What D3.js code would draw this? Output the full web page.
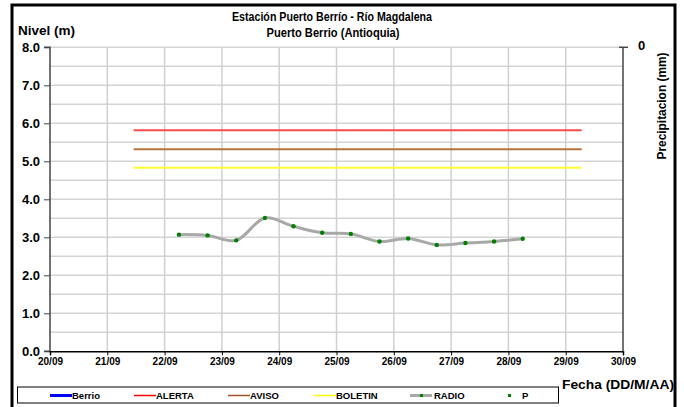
<!DOCTYPE html>
<html><head><meta charset="utf-8">
<script src="https://cdn.jsdelivr.net/npm/d3@7/dist/d3.min.js"></script>
<style>
body{margin:0;background:#fff;}
text{font-family:"Liberation Sans",Arial,sans-serif;font-weight:bold;fill:#000;}
</style></head><body>
<svg id="c" width="684" height="407"></svg>
<script>
const dateTicks = ["20/09","21/09","22/09","23/09","24/09","25/09","26/09","27/09","28/09","29/09","30/09"];
const yTicks = [0,1,2,3,4,5,6,7,8];
// RADIO readings, every 12 h from 22/09 06:00 (offset in days from 20/09 00:00)
const radioDays = [2.25,2.75,3.25,3.75,4.25,4.75,5.25,5.75,6.25,6.75,7.25,7.75,8.25];
const radioLevels = [3.07,3.05,2.92,3.51,3.29,3.12,3.09,2.89,2.97,2.80,2.85,2.89,2.96];
const thresholdSpan = [1.46,9.28];
const thresholds = [
  {name:"ALERTA", value:5.82, color:"#ff4b4b"},
  {name:"AVISO", value:5.32, color:"#b5743a"},
  {name:"BOLETIN", value:4.83, color:"#ffff33"}
];

const svg = d3.select("#c");
const X0=50, X1=623, Y0=351.3, Y1=47.3;
const x = d3.scaleLinear().domain([0,10]).range([X0,X1]);
const y = d3.scaleLinear().domain([0,8]).range([Y0,Y1]);

// outer border
svg.append("rect").attr("x",12).attr("y",5).attr("width",663).attr("height",406)
  .attr("fill","none").attr("stroke","#000").attr("stroke-width",3);

// grid
const g = svg.append("g");
g.selectAll(".hg").data(d3.range(0.5,8.01,0.5)).join("line")
  .attr("x1",X0).attr("x2",X1).attr("y1",d=>y(d)).attr("y2",d=>y(d))
  .attr("stroke","#d4d4d4").attr("stroke-width",1.5);
g.selectAll(".vg").data(d3.range(1,10)).join("line")
  .attr("x1",d=>x(d)).attr("x2",d=>x(d)).attr("y1",Y1).attr("y2",Y0)
  .attr("stroke","#cfcfcf").attr("stroke-width",1.5);

// axes
const yAxis = d3.axisLeft(y).tickValues(yTicks).tickFormat(d3.format(".1f")).tickSize(6).tickPadding(4);
const ya = svg.append("g").attr("transform",`translate(${X0},0)`).call(yAxis);
ya.select(".domain").attr("stroke","#444").attr("stroke-width",1.5).attr("d",`M-6,${Y1}H0V${Y0}H-6`);
ya.selectAll(".tick line").attr("stroke","#444");
ya.selectAll("text").style("font-size","13px").attr("dy","0.3em").style("font-family","'Liberation Sans',Arial,sans-serif").style("font-weight","bold");

const xAxis = d3.axisBottom(x).tickValues(d3.range(0,11)).tickFormat((d,i)=>dateTicks[i]).tickSize(4).tickPadding(3);
const xa = svg.append("g").attr("transform",`translate(0,${Y0})`).call(xAxis);
xa.select(".domain").attr("stroke","#000").attr("stroke-width",1.5);
xa.selectAll(".tick line").attr("stroke","#000");
xa.selectAll("text").style("font-size","10px").style("font-family","'Liberation Sans',Arial,sans-serif").style("font-weight","bold");

// right axis
svg.append("line").attr("x1",X1).attr("x2",X1).attr("y1",Y1).attr("y2",Y0).attr("stroke","#444").attr("stroke-width",1.5);
svg.append("line").attr("x1",X1-4).attr("x2",X1+5).attr("y1",Y1).attr("y2",Y1).attr("stroke","#444").attr("stroke-width",1.5);
svg.append("text").attr("x",638).attr("y",Y1+3).style("font-size","13px").text("0");

// thresholds
thresholds.forEach(t=>{
  svg.append("line").attr("x1",x(thresholdSpan[0])).attr("x2",x(thresholdSpan[1]))
    .attr("y1",y(t.value)).attr("y2",y(t.value)).attr("stroke",t.color).attr("stroke-width",2);
});

// RADIO line
const pts = radioDays.map((d,i)=>[d,radioLevels[i]]);
svg.append("path").datum(pts)
  .attr("d",d3.line().x(d=>x(d[0])).y(d=>y(d[1])).curve(d3.curveCatmullRom.alpha(0.5)))
  .attr("fill","none").attr("stroke","#a8a8a8").attr("stroke-width",3);
svg.selectAll(".pt").data(pts).join("circle")
  .attr("cx",d=>x(d[0])).attr("cy",d=>y(d[1])).attr("r",2.2).attr("fill","#008000");

// titles
svg.append("text").attr("x",332).attr("y",21).attr("text-anchor","middle").style("font-size","12.5px")
  .attr("textLength",200).attr("lengthAdjust","spacingAndGlyphs").text("Estación Puerto Berrío - Río Magdalena");
svg.append("text").attr("x",333).attr("y",37).attr("text-anchor","middle").style("font-size","12.5px")
  .attr("textLength",133).attr("lengthAdjust","spacingAndGlyphs").text("Puerto Berrio (Antioquia)");
svg.append("text").attr("x",18).attr("y",35).style("font-size","12.5px")
  .attr("textLength",57).attr("lengthAdjust","spacingAndGlyphs").text("Nivel (m)");
svg.append("text").attr("transform","translate(666,106) rotate(-90)").attr("text-anchor","middle").style("font-size","12px")
  .attr("textLength",107).attr("lengthAdjust","spacingAndGlyphs").text("Precipitacion (mm)");
svg.append("text").attr("x",562).attr("y",389).style("font-size","13px")
  .attr("textLength",112).attr("lengthAdjust","spacingAndGlyphs").text("Fecha (DD/M/AA)");

// legend
svg.append("rect").attr("x",17.5).attr("y",387).attr("width",541).attr("height",16)
  .attr("fill","#fff").attr("stroke","#000").attr("stroke-width",1);
const legendItems = [
  {name:"Berrio", color:"#0000ff", w:3, lx:50, tx:72},
  {name:"ALERTA", color:"#ff0000", w:1.5, lx:134, tx:156},
  {name:"AVISO", color:"#a0522d", w:1.5, lx:228, tx:250},
  {name:"BOLETIN", color:"#ffff00", w:1.5, lx:314, tx:336},
  {name:"RADIO", color:"#a8a8a8", w:3, lx:410, tx:434, dot:true},
  {name:"P", color:null, lx:498, tx:522, dot:true}
];
const ly = 395.5;
legendItems.forEach(it=>{
  if(it.color) svg.append("line").attr("x1",it.lx).attr("x2",it.lx+22).attr("y1",ly).attr("y2",ly).attr("stroke",it.color).attr("stroke-width",it.w);
  if(it.dot) svg.append("rect").attr("x",it.lx+10).attr("y",ly-1.5).attr("width",3).attr("height",3).attr("fill","#008000");
  svg.append("text").attr("x",it.tx).attr("y",ly+3.5).style("font-size","9.5px").text(it.name);
});
</script></body></html>
